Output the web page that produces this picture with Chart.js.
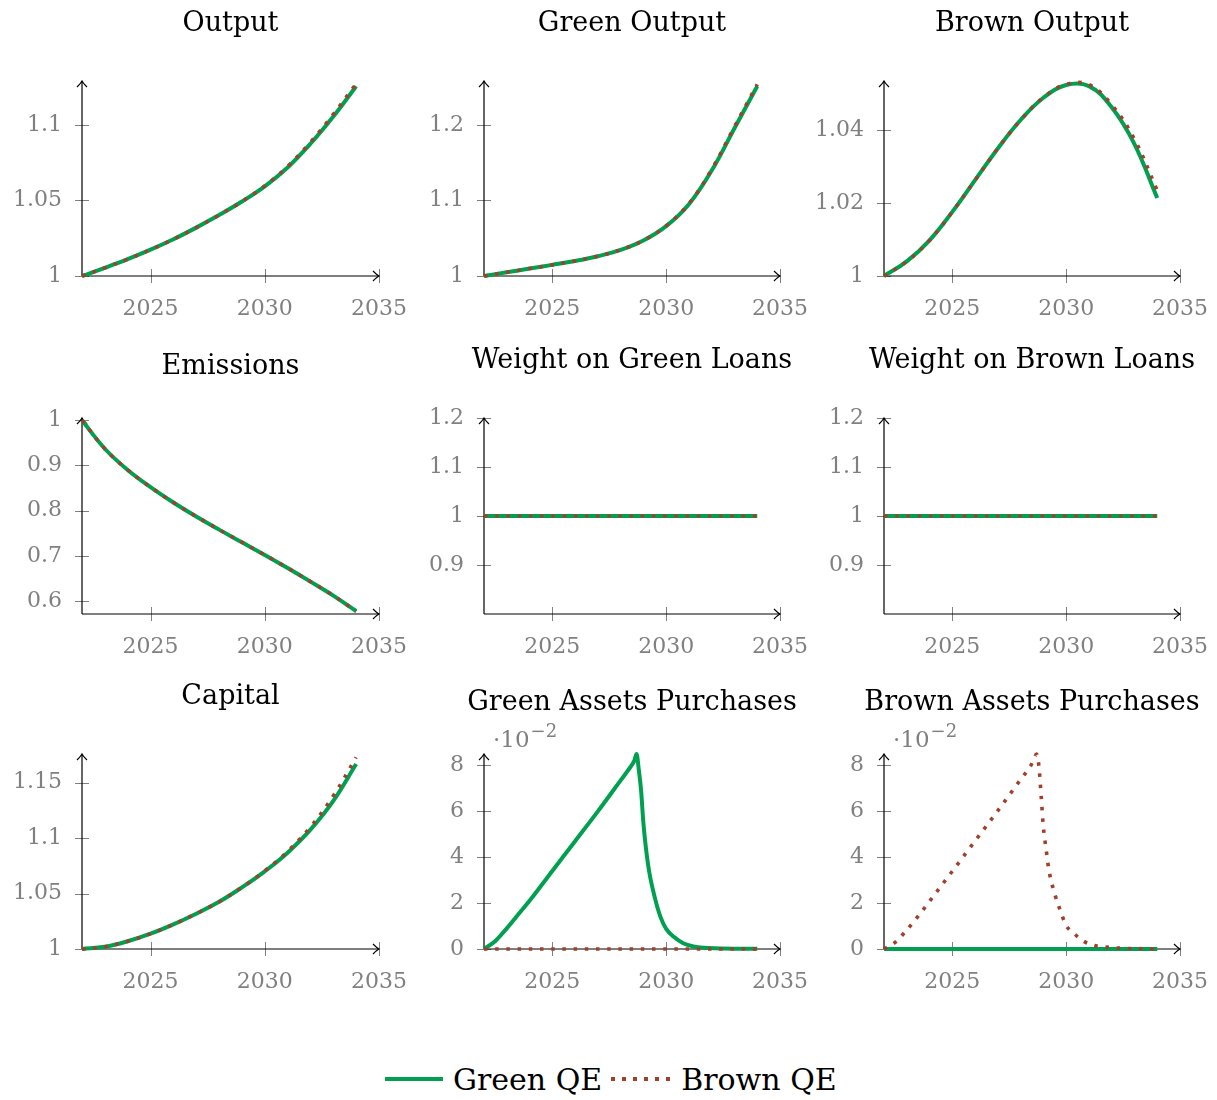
<!DOCTYPE html>
<html>
<head>
<meta charset="utf-8">
<script src="https://cdn.jsdelivr.net/npm/chart.js@4.4.0/dist/chart.umd.min.js"></script>
<style>
  body { margin: 0; background: #fff; width: 1217px; height: 1100px; overflow: hidden; position: relative; font-family: "DejaVu Serif", serif; }
  canvas { position: absolute; }
  #legend { position: absolute; left: 385px; top: 1059px; height: 40px; display: flex; align-items: center; font-size: 30px; color: #000; }
  .swatch { display: inline-block; width: 58px; height: 4px; }
</style>
</head>
<body>
<div id="legend">
  <span class="swatch" style="background:#00A050"></span>
  <span style="margin-left:10px">Green QE</span>
  <span class="swatch" style="margin-left:9px;width:60px;background:repeating-linear-gradient(90deg,#A0402A 0 3.5px,transparent 3.5px 11px)"></span>
  <span style="margin-left:10px">Brown QE</span>
</div>
<script>
// time axis
const years = [2022, 2023, 2024, 2025, 2026, 2027, 2028, 2029, 2030, 2031, 2032, 2033, 2034];
const flatYears = [2022, 2034];
const purchaseYears = [2022, 2022.5, 2023, 2023.5, 2024, 2025, 2026, 2027, 2028, 2028.45, 2028.6, 2028.7, 2028.8,
  2028.9, 2029, 2029.1, 2029.25, 2029.5, 2029.75, 2030, 2030.35, 2030.75, 2031.2, 2031.7, 2032.5, 2033.5, 2034];
const xTicks = [2025, 2030, 2035];

// series: Green QE / Brown QE
const outputGreen = [1, 1.0054, 1.0111, 1.0174, 1.0243, 1.0320, 1.0403, 1.0493, 1.0593, 1.0718, 1.0875, 1.1055, 1.1255];
const outputBrown = [1, 1.0054, 1.0111, 1.0174, 1.0243, 1.0320, 1.0403, 1.0493, 1.0596, 1.0725, 1.0885, 1.1070, 1.1272];
const greenOutGreen = [1, 1.0049, 1.0098, 1.0147, 1.0199, 1.0262, 1.0345, 1.0470, 1.0660, 1.0950, 1.1395, 1.1955, 1.2510];
const greenOutBrown = [1, 1.0049, 1.0098, 1.0147, 1.0199, 1.0262, 1.0345, 1.0472, 1.0664, 1.0958, 1.1410, 1.1975, 1.2535];
const brownOutGreen = [1, 1.0040, 1.0098, 1.0176, 1.0263, 1.0350, 1.0428, 1.0489, 1.0524, 1.0521, 1.0463, 1.0362, 1.0214];
const brownOutBrown = [1, 1.0040, 1.0098, 1.0176, 1.0263, 1.0350, 1.0428, 1.0490, 1.0526, 1.0525, 1.0470, 1.0375, 1.0235];
const emissionsGreen = [1, 0.937, 0.890, 0.852, 0.818, 0.787, 0.758, 0.730, 0.702, 0.673, 0.643, 0.612, 0.578];
const emissionsBrown = [1, 0.937, 0.890, 0.852, 0.818, 0.787, 0.758, 0.730, 0.702, 0.673, 0.643, 0.612, 0.577];
const weightFlat = [1, 1];
const capitalGreen = [1, 1.0020, 1.0070, 1.0138, 1.0222, 1.0318, 1.0425, 1.0555, 1.0700, 1.0868, 1.1075, 1.1335, 1.1667];
const capitalBrown = [1, 1.0020, 1.0070, 1.0138, 1.0222, 1.0318, 1.0425, 1.0556, 1.0704, 1.0880, 1.1100, 1.1380, 1.1727];
const greenPurchasesGreen = [0, 0.0035, 0.009, 0.015, 0.021, 0.034, 0.047, 0.060, 0.0735, 0.0796, 0.082, 0.085, 0.078,
  0.069, 0.055, 0.045, 0.034, 0.0225, 0.014, 0.0088, 0.0052, 0.0025, 0.0011, 0.0005, 0.0002, 0.0001, 0.0001];
const brownPurchasesBrown = [0, 0.003, 0.0083, 0.0143, 0.0208, 0.0339, 0.0471, 0.0603, 0.0739, 0.080, 0.083, 0.085, 0.080,
  0.067, 0.053, 0.045, 0.034, 0.024, 0.0165, 0.0103, 0.0067, 0.0035, 0.0016, 0.0009, 0.0003, 0.0001, 0];
const zeroFlat = [0, 0];

// y tick labels
const outputTicks = [1, 1.05, 1.1];
const greenOutTicks = [1, 1.1, 1.2];
const brownOutTicks = [1, 1.02, 1.04];
const emissionsTicks = [0.6, 0.7, 0.8, 0.9, 1];
const weightTicks = [0.9, 1, 1.1, 1.2];
const capitalTicks = [1, 1.05, 1.1, 1.15];
const purchaseTicks = [0, 0.02, 0.04, 0.06, 0.08];

const GREEN = '#00A050';
const BROWN = '#A0402A';
const GRAY = '#808080';
const FONT = '"DejaVu Serif", serif';

const colLeft = [82, 484, 884];
const colWidth = [297, 296, 296];
const rowTop = [81, 418, 754];
const rowHeight = [195, 196, 195];

const plain = v => String(v);
const hundred = v => String(Math.round(v * 100));

const panels = [
  { title: 'Output', row: 0, col: 0, yMin: 1, yMax: 1.129, yTicks: outputTicks, fmt: plain, titleGap: 57,
    green: [years, outputGreen], brown: [years, outputBrown] },
  { title: 'Green Output', row: 0, col: 1, yMin: 1, yMax: 1.258, yTicks: greenOutTicks, fmt: plain, titleGap: 57,
    green: [years, greenOutGreen], brown: [years, greenOutBrown] },
  { title: 'Brown Output', row: 0, col: 2, yMin: 1, yMax: 1.0535, yTicks: brownOutTicks, fmt: plain, titleGap: 57,
    green: [years, brownOutGreen], brown: [years, brownOutBrown] },
  { title: 'Emissions', row: 1, col: 0, yMin: 0.5713, yMax: 1.005, yTicks: emissionsTicks, fmt: plain, titleGap: 51,
    green: [years, emissionsGreen], brown: [years, emissionsBrown] },
  { title: 'Weight on Green Loans', row: 1, col: 1, yMin: 0.8, yMax: 1.2, yTicks: weightTicks, fmt: plain, titleGap: 57,
    green: [flatYears, weightFlat], brown: [flatYears, weightFlat] },
  { title: 'Weight on Brown Loans', row: 1, col: 2, yMin: 0.8, yMax: 1.2, yTicks: weightTicks, fmt: plain, titleGap: 57,
    green: [flatYears, weightFlat], brown: [flatYears, weightFlat] },
  { title: 'Capital', row: 2, col: 0, yMin: 1, yMax: 1.1757, yTicks: capitalTicks, fmt: plain, titleGap: 57,
    green: [years, capitalGreen], brown: [years, capitalBrown] },
  { title: 'Green Assets Purchases', row: 2, col: 1, yMin: 0, yMax: 0.085, yTicks: purchaseTicks, fmt: hundred, titleGap: 51,
    scaleLabel: true, sharp: true, green: [purchaseYears, greenPurchasesGreen], brown: [flatYears, zeroFlat] },
  { title: 'Brown Assets Purchases', row: 2, col: 2, yMin: 0, yMax: 0.085, yTicks: purchaseTicks, fmt: hundred, titleGap: 51,
    scaleLabel: true, sharp: true, green: [flatYears, zeroFlat], brown: [purchaseYears, brownPurchasesBrown] },
];

const PAD_TOP = 80, PAD_RIGHT = 60, Y_W = 80, X_H = 50;

function arrowHead(ctx, x, y, dir) {
  // open TikZ-like "->" tip
  ctx.beginPath();
  if (dir === 'right') {
    ctx.moveTo(x - 6, y - 5); ctx.quadraticCurveTo(x - 2, y - 1, x, y); ctx.quadraticCurveTo(x - 2, y + 1, x - 6, y + 5);
  } else {
    ctx.moveTo(x - 5, y + 6); ctx.quadraticCurveTo(x - 1, y + 2, x, y); ctx.quadraticCurveTo(x + 1, y + 2, x + 5, y + 6);
  }
  ctx.stroke();
}

const axesDecor = {
  id: 'axesDecor',
  beforeDatasetsDraw(chart) {
    const a = chart.chartArea, ctx = chart.ctx;
    const xs = chart.scales.x, ys = chart.scales.y;
    ctx.save();
    ctx.strokeStyle = GRAY; ctx.lineWidth = 1;
    xs.ticks.forEach(t => {
      const px = Math.round(xs.getPixelForValue(t.value)) + 0.5;
      ctx.beginPath(); ctx.moveTo(px, a.bottom - 7); ctx.lineTo(px, a.bottom + 7); ctx.stroke();
    });
    ys.ticks.forEach(t => {
      const py = Math.round(ys.getPixelForValue(t.value)) + 0.5;
      ctx.beginPath(); ctx.moveTo(a.left - 7, py); ctx.lineTo(a.left + 7, py); ctx.stroke();
    });
    ctx.strokeStyle = '#000'; ctx.lineWidth = 1.2;
    ctx.beginPath(); ctx.moveTo(a.left, a.bottom); ctx.lineTo(a.right, a.bottom); ctx.stroke();
    ctx.beginPath(); ctx.moveTo(a.left, a.bottom); ctx.lineTo(a.left, a.top); ctx.stroke();
    arrowHead(ctx, a.right, a.bottom, 'right');
    arrowHead(ctx, a.left, a.top, 'up');
    ctx.restore();
  },
  afterDraw(chart, args, opts) {
    const a = chart.chartArea, ctx = chart.ctx;
    ctx.save();
    ctx.fillStyle = '#000';
    ctx.font = '27px ' + FONT;
    ctx.textAlign = 'center'; ctx.textBaseline = 'middle';
    ctx.fillText(opts.title, (a.left + a.right) / 2, a.top - opts.titleGap);
    if (opts.scaleLabel) {
      ctx.fillStyle = GRAY; ctx.textAlign = 'left'; ctx.textBaseline = 'alphabetic';
      ctx.font = '23px ' + FONT;
      ctx.fillText('·10', a.left + 9, a.top - 7);
      const w = ctx.measureText('·10').width;
      ctx.font = '18px ' + FONT;
      ctx.fillText('−2', a.left + 9 + w + 1, a.top - 17);
    }
    ctx.restore();
  }
};

function toPoints(xArr, yArr) {
  return xArr.map((x, i) => ({ x: x, y: yArr[i] }));
}

panels.forEach(p => {
  const cv = document.createElement('canvas');
  const w = Y_W + colWidth[p.col] + PAD_RIGHT;
  const h = PAD_TOP + rowHeight[p.row] + X_H;
  cv.width = w; cv.height = h;
  cv.style.left = (colLeft[p.col] - Y_W) + 'px';
  cv.style.top = (rowTop[p.row] - PAD_TOP) + 'px';
  document.body.appendChild(cv);

  const lineShape = p.sharp ? { cubicInterpolationMode: 'monotone' } : { tension: 0.4 };

  new Chart(cv.getContext('2d'), {
    type: 'line',
    data: {
      datasets: [
        Object.assign({ label: 'Brown QE', data: toPoints(p.brown[0], p.brown[1]), borderColor: BROWN, borderWidth: 3.6,
          borderDash: [3.5, 7.7], borderCapStyle: 'butt', order: 0 }, lineShape),
        Object.assign({ label: 'Green QE', data: toPoints(p.green[0], p.green[1]), borderColor: GREEN, borderWidth: 4,
          order: 1 }, lineShape)
      ]
    },
    options: {
      responsive: false,
      animation: false,
      events: [],
      layout: { padding: { top: PAD_TOP, right: PAD_RIGHT, left: 0, bottom: 0 } },
      elements: { point: { radius: 0 }, line: { fill: false } },
      datasets: { line: { clip: false } },
      plugins: {
        legend: { display: false },
        tooltip: { enabled: false },
        axesDecor: { title: p.title, titleGap: p.titleGap, scaleLabel: !!p.scaleLabel }
      },
      scales: {
        x: {
          type: 'linear', min: 2022, max: 2035,
          afterBuildTicks: s => { s.ticks = xTicks.map(v => ({ value: v })); },
          afterFit: s => { s.height = X_H; },
          grid: { display: false, drawTicks: false },
          border: { display: false },
          ticks: { color: GRAY, font: { family: FONT, size: 22 }, padding: 20, maxRotation: 0, callback: v => String(v) }
        },
        y: {
          type: 'linear', min: p.yMin, max: p.yMax,
          afterBuildTicks: s => { s.ticks = p.yTicks.map(v => ({ value: v })); },
          afterFit: s => { s.width = Y_W; },
          grid: { display: false, drawTicks: false },
          border: { display: false },
          ticks: { color: GRAY, font: { family: FONT, size: 22 }, padding: 20, callback: v => p.fmt(v) }
        }
      }
    },
    plugins: [axesDecor]
  });
});
</script>
</body>
</html>
